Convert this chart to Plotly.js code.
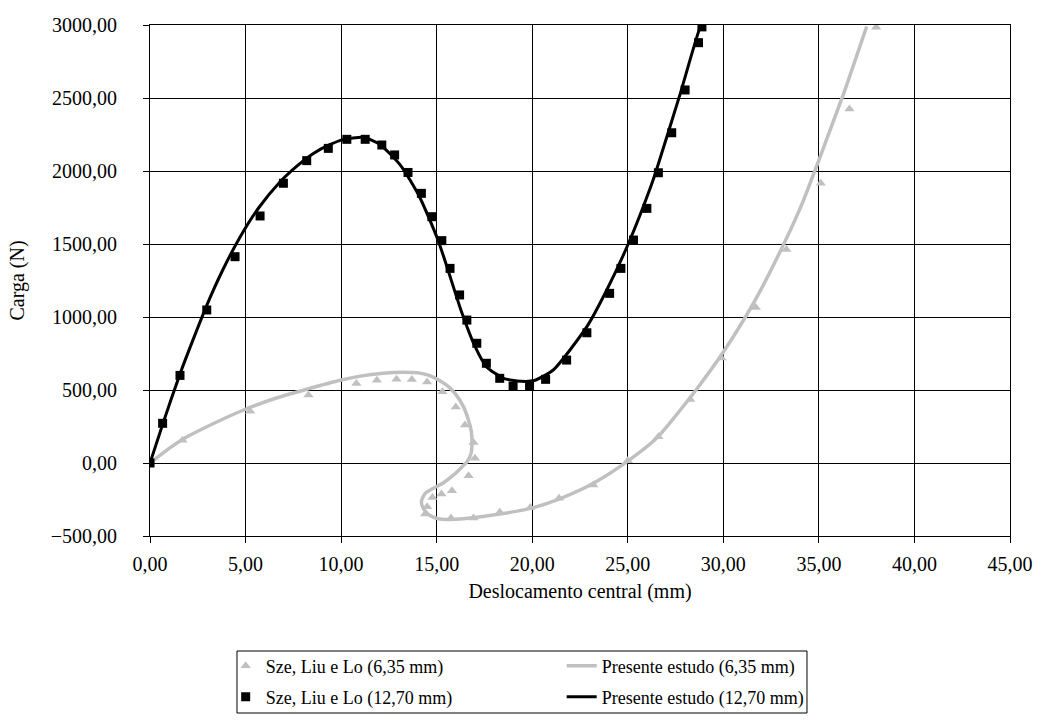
<!DOCTYPE html>
<html>
<head>
<meta charset="utf-8">
<script src="https://cdn.plot.ly/plotly-3.0.1.min.js"></script>
<style>html,body{margin:0;padding:0;background:#fff;}#chart{width:1043px;height:720px;}</style>
</head>
<body>
<div id="chart"></div>
<script>
// Sze, Liu e Lo (6,35 mm) - reference points
const szeThinX = [0, 1.7, 5.24, 8.29, 10.8, 11.87, 12.9, 13.7, 14.5, 15.3, 16.0, 16.48, 16.93, 17.0, 16.67, 15.8, 15.25, 14.78, 14.5, 14.4, 15.75, 16.93, 18.3, 19.9, 21.4, 23.2, 25.0, 26.6, 28.27, 29.9, 31.7, 33.3, 35.1, 36.6, 38.0];
const szeThinY = [0, 155, 355, 466, 545, 567, 574, 572, 555, 488, 384, 260, 140, 32, -88, -190, -213, -236, -300, -350, -377, -377, -337, -305, -242, -150, 15, 180, 435, 720, 1065, 1462, 1916, 2425, 2985];

// Presente estudo (6,35 mm) - curve
const presThinX = [0, 0.5, 1.0, 1.74, 3.0, 4.9, 6.5, 8.2, 10.0, 11.0, 12.2, 13.2, 14.0, 14.6, 15.1, 15.6, 16.0, 16.4, 16.65, 16.8, 16.85, 16.8, 16.6, 16.3, 15.9, 15.36, 14.8, 14.4, 14.2, 14.3, 14.55, 14.9, 15.3, 16.0, 16.9, 18.3, 19.9, 21.5, 23.2, 24.96, 26.5, 27.75, 28.6, 30.0, 31.6, 33.2, 34.2, 35.0, 36.3, 37.5];
const presThinY = [0, 50, 100, 165, 250, 363, 440, 505, 568, 595, 615, 622, 618, 600, 568, 525, 470, 386, 300, 226, 140, 66, 10, -30, -80, -135, -175, -208, -262, -312, -350, -375, -386, -385, -375, -350, -311, -242, -139, 9, 169, 363, 505, 760, 1100, 1510, 1801, 2075, 2532, 2990];

// Sze, Liu e Lo (12,70 mm) - reference points
const szeThickX = [0, 0.66, 1.57, 2.97, 4.45, 5.76, 6.98, 8.2, 9.33, 10.3, 11.26, 12.13, 12.8, 13.5, 14.2, 14.75, 15.27, 15.7, 16.2, 16.58, 17.1, 17.6, 18.3, 19.0, 19.86, 20.7, 21.8, 22.86, 24.05, 24.64, 25.3, 26.0, 26.6, 27.3, 28.0, 28.7, 28.88];
const szeThickY = [0, 272, 600, 1048, 1413, 1692, 1916, 2071, 2155, 2217, 2217, 2178, 2110, 1990, 1847, 1687, 1523, 1333, 1151, 979, 820, 683, 580, 527, 527, 573, 705, 892, 1162, 1333, 1527, 1744, 1988, 2262, 2555, 2879, 2987];

// Presente estudo (12,70 mm) - curve
const presThickX = [0, 0.7, 1.57, 2.27, 2.97, 3.8, 4.7, 5.7, 6.8, 7.7, 8.55, 9.4, 10.1, 11.17, 12.0, 13.1, 14.1, 15.1, 16.3, 17.0, 17.6, 18.5, 19.4, 20.1, 21.1, 22.86, 23.9, 25.04, 26.2, 26.5, 27.75, 28.8, 28.9];
const presThickY = [0, 280, 610, 850, 1080, 1320, 1545, 1750, 1925, 2035, 2120, 2180, 2215, 2231, 2185, 2040, 1824, 1516, 1036, 800, 660, 580, 560, 565, 637, 934, 1185, 1505, 1892, 2007, 2532, 2988, 3000];

const xTickVals = [0, 5, 10, 15, 20, 25, 30, 35, 40, 45];
const yTickVals = [-500, 0, 500, 1000, 1500, 2000, 2500, 3000];

const gray = '#c0c0c0';
const FONT = "'Liberation Serif', 'Times New Roman', Times, serif";
const FS = 20;
const LFS = 18;

const traces = [
  {x: szeThinX, y: szeThinY, mode: 'markers', name: 'Sze, Liu e Lo (6,35 mm)', legend: 'legend',
   marker: {symbol: 'triangle-up', size: 9, color: gray}},
  {x: presThinX, y: presThinY, mode: 'lines', name: 'Presente estudo (6,35 mm)', legend: 'legend',
   line: {color: gray, width: 3.5, shape: 'spline', smoothing: 0.6}},
  {x: szeThickX, y: szeThickY, mode: 'markers', name: 'Sze, Liu e Lo (12,70 mm)', legend: 'legend2',
   marker: {symbol: 'square', size: 9, color: '#000'}},
  {x: presThickX, y: presThickY, mode: 'lines', name: 'Presente estudo (12,70 mm)', legend: 'legend2',
   line: {color: '#000', width: 3, shape: 'spline', smoothing: 0.6}}
];

const legendBase = {
  orientation: 'h', x: 0.088, xanchor: 'left', yanchor: 'middle',
  borderwidth: 0, bgcolor: 'rgba(0,0,0,0)',
  entrywidth: 291, entrywidthmode: 'pixels', traceorder: 'normal',
  font: {family: FONT, size: LFS, color: '#000'}
};

const layout = {
  width: 1043, height: 720,
  margin: {l: 150, r: 33, t: 25, b: 184, autoexpand: false},
  paper_bgcolor: '#fff', plot_bgcolor: '#fff',
  separators: ',.',
  font: {family: FONT, size: FS, color: '#000'},
  showlegend: true,
  xaxis: {
    range: [0, 45], tickvals: xTickVals, tickformat: '.2f',
    showgrid: true, gridcolor: '#000', gridwidth: 1,
    showline: true, linecolor: '#000', linewidth: 1, mirror: true,
    ticks: 'outside', ticklen: 6, tickcolor: '#000', zeroline: false,
    ticklabelstandoff: 4,
    title: {text: 'Deslocamento central (mm)', font: {family: FONT, size: FS}, standoff: 9},
    tickfont: {family: FONT, size: FS}
  },
  yaxis: {
    range: [-500, 3000], tickvals: yTickVals, tickformat: '.2f',
    showgrid: true, gridcolor: '#000', gridwidth: 1,
    showline: true, linecolor: '#000', linewidth: 1, mirror: true,
    ticks: 'outside', ticklen: 6, tickcolor: '#000', zeroline: false,
    ticklabelstandoff: 22,
    title: {text: 'Carga (N)', font: {family: FONT, size: FS}, standoff: 20},
    tickfont: {family: FONT, size: FS}
  },
  legend: Object.assign({}, legendBase, {y: -0.2544}),
  legend2: Object.assign({}, legendBase, {y: -0.3151}),
  shapes: [{
    type: 'rect', xref: 'paper', yref: 'paper',
    x0: 0.10116, x1: 0.76395, y0: -0.34638, y1: -0.22505,
    line: {color: '#000', width: 1}, fillcolor: 'rgba(0,0,0,0)', layer: 'above'
  }]
};

Plotly.newPlot('chart', traces, layout, {displayModeBar: false, staticPlot: true});
</script>
</body>
</html>
